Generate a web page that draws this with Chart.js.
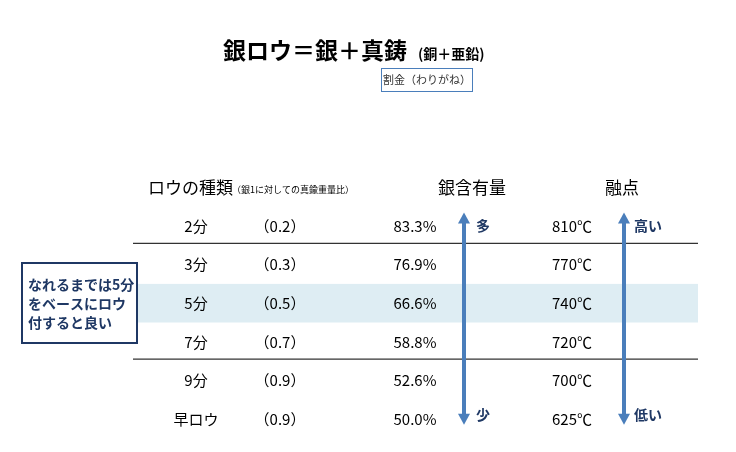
<!DOCTYPE html>
<html><head><meta charset="utf-8">
<script src="https://cdn.jsdelivr.net/npm/chart.js@4"></script>
<style>html,body{margin:0;background:#fff}#c{display:block}</style>
</head><body>
<div style="width:736px;height:452px"><canvas id="c"></canvas></div>
<script>
// データ
const rouNames = ['2分', '3分', '5分', '7分', '9分', '早ロウ'];
const ratios = ['（0.2）', '（0.3）', '（0.5）', '（0.7）', '（0.9）', '（0.9）'];
const silverPct = [83.3, 76.9, 66.6, 58.8, 52.6, 50.0];
const meltPoint = [810, 770, 740, 720, 700, 625];
const FONT = '"Noto Sans CJK JP", "Noto Sans", sans-serif';
const BLUE = '#4a7ebb', NAVY = '#1f3864';

function font(ctx, size, bold) { ctx.font = (bold ? 'bold ' : '') + size + 'px ' + FONT; }

function arrow(ctx, x, y1, y2) {
    ctx.strokeStyle = BLUE; ctx.fillStyle = BLUE; ctx.lineWidth = 4;
    ctx.beginPath(); ctx.moveTo(x, y1 + 8); ctx.lineTo(x, y2 - 8); ctx.stroke();
    [[y1, 1], [y2, -1]].forEach(([y, d]) => {
        ctx.beginPath(); ctx.moveTo(x, y); ctx.lineTo(x - 6, y + 11 * d); ctx.lineTo(x + 6, y + 11 * d); ctx.fill();
    });
}

const tablePlugin = {
    id: 'table',
    beforeDatasetsDraw(chart) {
        const ctx = chart.ctx, sx = chart.scales.x, sy = chart.scales.y;
        const X = v => sx.getPixelForValue(v), Y = v => sy.getPixelForValue(v);
        ctx.save();
        // 5分の帯
        ctx.fillStyle = '#deedf3';
        ctx.fillRect(X(133), Y(1.5), X(698) - X(133), Y(2.5) - Y(1.5));
        // 区切り線
        ctx.strokeStyle = '#333'; ctx.lineWidth = 1.2;
        [0.45, 3.45].forEach(r => { ctx.beginPath(); ctx.moveTo(X(133), Y(r)); ctx.lineTo(X(698), Y(r)); ctx.stroke(); });
        // 見出し
        ctx.fillStyle = '#000'; ctx.textBaseline = 'middle';
        font(ctx, 23, true); ctx.textAlign = 'left';
        ctx.fillText('銀ロウ＝銀＋真鋳', 223, 50);
        font(ctx, 14, true); ctx.fillText('(銅＋亜鉛)', 418, 54);
        ctx.strokeStyle = BLUE; ctx.lineWidth = 1; ctx.strokeRect(381.5, 68.5, 91, 23);
        font(ctx, 11); ctx.fillStyle = '#333'; ctx.textAlign = 'center'; ctx.fillText('割金（わりがね）', 427, 80);
        ctx.fillStyle = '#000'; ctx.textAlign = 'left';
        font(ctx, 17); ctx.fillText('ロウの種類', 148, Y(-1));
        font(ctx, 9); ctx.fillText('（銀1に対しての真鍮重量比）', 232, Y(-1) + 2);
        font(ctx, 17); ctx.textAlign = 'center';
        ctx.fillText('銀含有量', X(472), Y(-1)); ctx.fillText('融点', X(622), Y(-1));
        // 行
        font(ctx, 15);
        rouNames.forEach((n, i) => {
            ctx.textAlign = 'center'; ctx.fillText(n, X(196), Y(i));
            ctx.fillText(ratios[i], X(280), Y(i));
            ctx.fillText(silverPct[i].toFixed(1) + '%', X(415), Y(i));
            ctx.fillText(meltPoint[i] + '℃', X(572), Y(i));
        });
        // 矢印
        arrow(ctx, X(464), Y(-0.35), Y(5.15));
        arrow(ctx, X(624), Y(-0.35), Y(5.15));
        ctx.fillStyle = NAVY; font(ctx, 14, true); ctx.textAlign = 'left';
        ctx.fillText('多', X(476), Y(0)); ctx.fillText('少', X(476), Y(5) - 4);
        ctx.fillText('高い', X(634), Y(0)); ctx.fillText('低い', X(634), Y(5) - 4);
        // 左のメモ
        ctx.fillStyle = '#fff'; ctx.fillRect(22, 263, 115, 80);
        ctx.strokeStyle = NAVY; ctx.lineWidth = 2; ctx.strokeRect(22, 263, 115, 80);
        ctx.fillStyle = NAVY; font(ctx, 14, true);
        ['なれるまでは5分', 'をベースにロウ', '付すると良い'].forEach((t, i) => ctx.fillText(t, 28, 285 + i * 19));
        ctx.restore();
    }
};

new Chart(document.getElementById('c'), {
    type: 'scatter',
    data: { datasets: [{ data: rouNames.map((n, i) => ({ x: 415, y: i })), pointRadius: 0 }] },
    options: {
        responsive: true, maintainAspectRatio: false, animation: false,
        layout: { padding: 0 },
        plugins: { legend: { display: false }, tooltip: { enabled: false } },
        scales: {
            x: { type: 'linear', min: 0, max: 736, display: false },
            y: { type: 'linear', min: -5.855, max: 5.855, reverse: true, display: false }
        }
    },
    plugins: [tablePlugin]
});
</script>
</body></html>
